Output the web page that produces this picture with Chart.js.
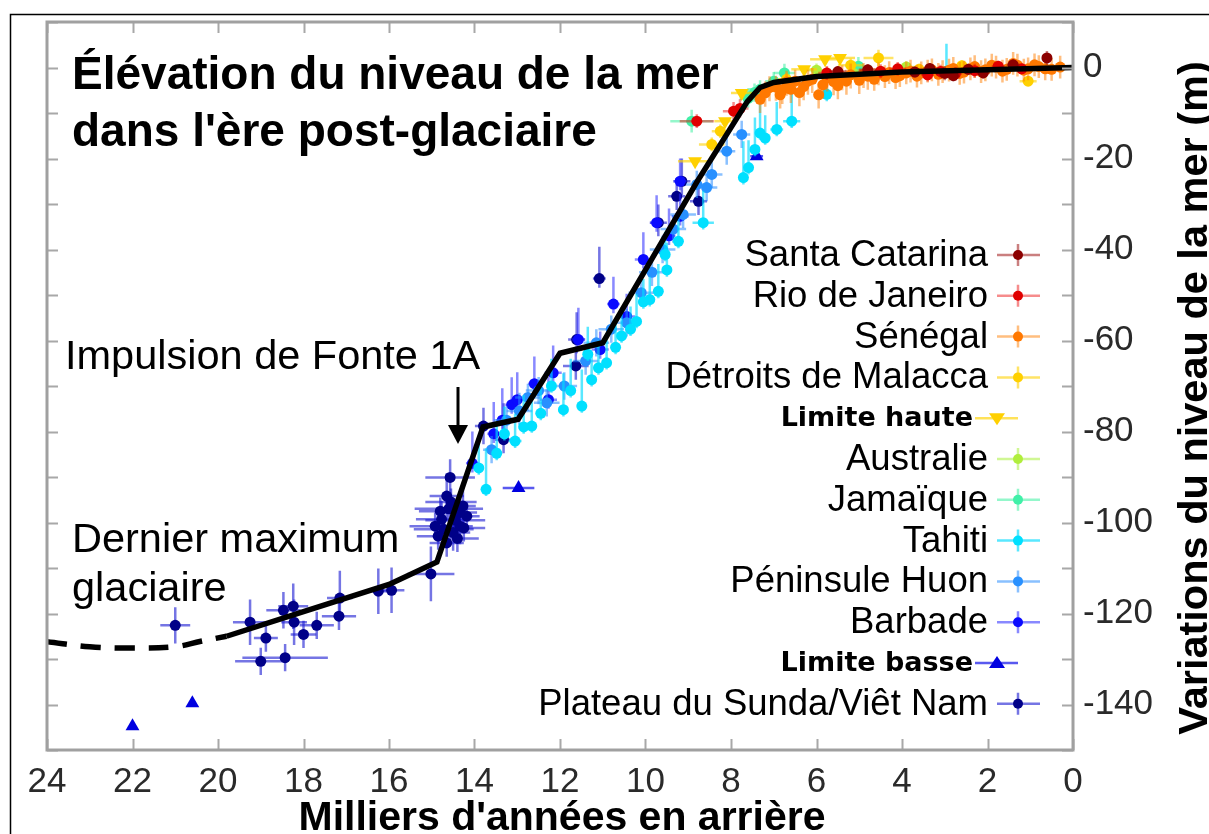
<!DOCTYPE html>
<html>
<head>
<meta charset="utf-8">
<script src="https://cdn.jsdelivr.net/npm/chart.js@4.4.1/dist/chart.umd.min.js"></script>
<style>
  html, body { margin: 0; padding: 0; background: #fff; }
  canvas { display: block; }
</style>
</head>
<body>
<canvas id="seaLevel" width="1209" height="834"></canvas>
<script>
// chaque point : [âge (ka), niveau (m), erreur âge, erreur vers le haut, erreur vers le bas]
const santaCatarina = [
    [0.61, 2.1, 0.1, 1.5, 1.5], [1.4, 0.6, 0.15, 1.2, 1.2], [2.1, -1.2, 0.15, 1.2, 1.2],
    [2.45, -0.4, 0.15, 1.2, 1.2], [3.0, -1.3, 0.2, 1.5, 1.5], [3.35, -0.2, 0.15, 1.2, 1.2],
    [4.8, -0.5, 0.2, 1.2, 1.2], [5.5, -0.9, 0.2, 1.2, 1.2], [2.8, -1.8, 0.15, 1.2, 1.2],
    [3.7, -1.0, 0.2, 1.2, 1.2]
];
const rioDeJaneiro = [
    [8.8, -11.8, 0.4, 1.5, 1.5], [7.94, -9.6, 0.25, 2, 2], [7.79, -9.0, 0.2, 2, 2],
    [5.76, -1.2, 0.2, 1.5, 1.5], [4.1, -0.3, 0.2, 1.5, 1.5], [3.1, -0.9, 0.2, 1.5, 1.5],
    [2.75, -1.4, 0.15, 1.5, 1.5], [2.3, -0.7, 0.15, 1.5, 1.5], [1.75, 0.3, 0.15, 1.2, 1.2],
    [1.2, -0.3, 0.15, 1.2, 1.2], [3.4, -1.6, 0.15, 1.5, 1.5], [4.5, -0.8, 0.15, 1.5, 1.5]
];
const senegal = [
    [7.32, -7.0, 0.1, 2.5, 3], [7.2, -5.6, 0.1, 2.5, 3], [7.1, -4.4, 0.1, 2.5, 3],
    [6.95, -4.3, 0.1, 2.5, 3], [6.85, -6.0, 0.1, 2.5, 3], [6.8, -5.0, 0.1, 2.5, 3],
    [6.7, -3.2, 0.1, 2.5, 3], [6.6, -4.8, 0.1, 2.5, 3], [6.5, -3.0, 0.1, 2.5, 3],
    [6.4, -5.5, 0.1, 2.5, 3], [6.3, -4.2, 0.1, 2.5, 3], [6.2, -3.0, 0.1, 2.5, 3],
    [6.1, -2.6, 0.1, 2.5, 3], [5.95, -6.0, 0.1, 2.5, 3], [5.85, -3.8, 0.1, 2.5, 3],
    [5.75, -2.3, 0.1, 2.5, 3], [5.6, -3.1, 0.1, 2.5, 3], [5.5, -4.0, 0.1, 2.5, 3],
    [5.4, -2.0, 0.1, 2.5, 3], [5.3, -3.0, 0.1, 2.5, 3], [5.2, -1.6, 0.1, 2.5, 3],
    [5.0, -2.8, 0.1, 2.5, 3], [4.9, -1.5, 0.1, 2.5, 3], [4.8, -1.9, 0.1, 2.5, 3],
    [4.65, -2.6, 0.1, 2.5, 2.5], [4.55, -1.4, 0.1, 2.5, 2.5], [4.4, -2.0, 0.1, 2.5, 2.5],
    [4.3, -1.1, 0.1, 2.5, 2.5], [4.15, -2.2, 0.1, 2.5, 2.5], [4.05, -1.8, 0.1, 2.5, 2.5],
    [3.9, -1.2, 0.1, 2.5, 2.5], [3.8, -0.8, 0.1, 2.5, 2.5], [3.65, -1.9, 0.1, 2.5, 2.5],
    [3.55, -1.2, 0.1, 2.5, 2.5], [3.4, -0.8, 0.1, 2.5, 2.5], [3.3, -0.5, 0.1, 2.5, 2.5],
    [3.15, -1.5, 0.1, 2.5, 2.5], [3.05, -0.9, 0.1, 2.5, 2.5], [2.9, -0.6, 0.1, 2.5, 2.5],
    [2.8, -0.2, 0.1, 2.5, 2.5], [2.65, -1.3, 0.1, 2.5, 2.5], [2.55, -1.0, 0.1, 2.5, 2.5],
    [2.4, -0.3, 0.1, 2.5, 2.5], [2.3, 0.2, 0.1, 2.5, 2.5], [2.15, -0.9, 0.1, 2.5, 2.5],
    [2.05, -0.5, 0.1, 2.5, 2.5], [1.9, 0.5, 0.1, 2.5, 2.5], [1.8, 0.1, 0.1, 2.5, 2.5],
    [1.65, -0.8, 0.1, 2.5, 2.5], [1.55, -0.4, 0.1, 2.5, 2.5], [1.4, 0.9, 0.1, 2.5, 2.5],
    [1.3, 0.5, 0.1, 2.5, 2.5], [1.15, -0.6, 0.1, 2.5, 2.5], [1.05, -0.3, 0.1, 2.5, 2.5],
    [0.9, 0.6, 0.1, 2.5, 2.5], [0.8, 0.2, 0.1, 2.5, 2.5], [0.65, -0.3, 0.1, 2.5, 2.5],
    [0.5, -0.4, 0.1, 2.5, 2.5], [0.3, 0.1, 0.1, 2.5, 2.5]
];
const malacca = [
    [8.45, -16.9, 0.3, 1.5, 1.5], [8.25, -14.0, 0.2, 1.5, 1.5], [6.7, -2.6, 0.2, 1.5, 1.5],
    [4.55, 2.1, 0.35, 1.8, 1.8], [3.6, -0.4, 0.2, 1.2, 1.2], [2.6, 0.4, 0.2, 1.2, 1.2],
    [1.05, -3.0, 0.2, 1, 1], [5.2, 0.5, 0.3, 1.5, 1.5]
];
const limiteHaute = [
    [8.84, -20.6, 0.4, 0, 0], [8.14, -11.8, 0.25, 0, 0], [7.75, -5.6, 0.25, 0, 0],
    [6.29, -0.4, 0.3, 0, 0], [5.8, 1.8, 0.35, 0, 0], [5.45, 2.1, 0.35, 0, 0]
];
const australie = [
    [6.0, -0.6, 0.2, 1.5, 1.5], [5.15, -1.2, 0.2, 1.5, 1.5], [3.9, 0.1, 0.2, 1.2, 1.2]
];
const jamaique = [
    [8.92, -11.8, 0.5, 2.5, 2.5], [7.6, -6.8, 0.2, 2, 2], [7.32, -4.8, 0.3, 2, 2],
    [7.0, -3.0, 0.2, 2, 2], [6.75, -1.2, 0.25, 2, 2], [5.02, 0.3, 0.3, 2, 2],
    [7.45, -5.5, 0.2, 2, 2]
];
const tahiti = [
    [13.73, -92.7, 0.1, 9, 1.5], [13.48, -84.8, 0.1, 7, 1.5], [13.3, -80.5, 0.1, 6, 1.5],
    [13.05, -82.1, 0.15, 6, 1.5], [12.85, -79.0, 0.1, 7, 1.5], [12.66, -78.8, 0.1, 6, 1.5],
    [12.45, -76.0, 0.1, 7, 1.5], [11.92, -75.2, 0.1, 8, 1.5], [11.75, -71.0, 0.1, 7, 1.5],
    [11.49, -74.4, 0.1, 8, 1.5], [11.26, -68.6, 0.1, 6, 1.5], [11.1, -66.0, 0.1, 6, 1.5],
    [10.91, -64.9, 0.1, 5, 1.5], [10.7, -61.5, 0.1, 6, 1.5], [10.56, -59.0, 0.1, 6, 1.5],
    [10.35, -57.5, 0.1, 5, 1.5], [10.21, -55.8, 0.1, 6, 1.5], [10.05, -51.5, 0.1, 5, 1.5],
    [9.9, -51.0, 0.1, 5, 1.5], [9.7, -49.2, 0.1, 6, 1.5], [9.5, -44.5, 0.1, 6, 1.5],
    [9.54, -41.1, 0.1, 5, 1.5], [9.23, -38.2, 0.1, 5, 1.5], [8.65, -34.1, 0.25, 7, 1.5],
    [7.71, -24.2, 0.1, 8, 1.5], [7.59, -22.0, 0.1, 6, 1.5], [7.44, -18.0, 0.1, 7, 1.5],
    [7.32, -14.4, 0.1, 7, 1.5], [7.2, -15.5, 0.1, 5, 1.5], [6.93, -13.6, 0.15, 6, 1.5],
    [6.58, -11.8, 0.2, 6, 1.5], [5.76, -5.9, 0.1, 3, 1.5], [2.96, -0.8, 0.1, 6, 1],
    [13.9, -88.0, 0.1, 7, 1.5], [12.2, -70.0, 0.1, 6, 1.5], [11.35, -63.0, 0.1, 6, 1.5]
];
const huon = [
    [13.6, -84.0, 0.2, 3, 3], [13.25, -77.5, 0.3, 3, 3], [12.95, -75.5, 0.3, 4, 3],
    [12.5, -71.0, 0.3, 3, 3], [12.31, -73.7, 0.3, 3, 3], [11.9, -70.0, 0.3, 3, 3],
    [11.4, -64.5, 0.3, 3, 3], [10.8, -57.5, 0.3, 3, 3], [10.44, -56.1, 0.3, 3, 3],
    [10.1, -49.5, 0.3, 3, 3], [9.85, -45.0, 0.3, 3, 3], [9.6, -40.0, 0.3, 3, 3],
    [9.12, -32.3, 0.3, 3, 3], [8.8, -25.7, 0.25, 3, 3], [8.57, -26.4, 0.25, 3, 3],
    [8.45, -23.5, 0.25, 3, 3], [8.1, -18.4, 0.2, 3, 3], [7.75, -14.7, 0.2, 3, 3],
    [12.75, -72.5, 0.3, 3, 3], [11.15, -60.5, 0.3, 3, 3], [9.35, -35.5, 0.3, 3, 3]
];
const barbade = [
    [14.05, -87.0, 0.15, 7, 2], [13.55, -80.5, 0.15, 7, 2], [13.13, -74.1, 0.15, 6, 2],
    [13.0, -73.0, 0.15, 6, 2], [12.27, -73.0, 0.2, 5, 2], [12.16, -67.1, 0.2, 6, 2],
    [11.57, -59.8, 0.15, 7, 2], [11.06, -62.0, 0.2, 4, 2], [10.44, -54.7, 0.2, 5, 2],
    [10.05, -42.2, 0.2, 6, 2], [9.74, -34.1, 0.15, 6, 2], [9.19, -32.7, 0.2, 5, 2],
    [9.19, -25.0, 0.15, 5, 2], [12.6, -69.5, 0.15, 6, 2], [13.35, -77.5, 0.15, 7, 2],
    [10.75, -52.0, 0.15, 6, 2], [9.45, -37.0, 0.15, 6, 2]
];
const limiteBasse = [
    [22.0, -144.8, 0, 0, 0], [20.6, -139.7, 0, 0, 0], [12.97, -92.4, 0.37, 0, 0],
    [7.4, -19.5, 0.15, 0, 0]
];
const sunda = [
    [21.0, -122.6, 0.35, 4, 4], [19.25, -121.9, 0.4, 5, 5], [18.88, -125.4, 0.28, 3, 3],
    [19.0, -130.5, 0.6, 3, 3], [18.43, -129.7, 1.0, 3, 3], [18.47, -119.3, 0.4, 4, 4],
    [18.24, -118.4, 0.35, 5, 5], [18.22, -121.9, 0.3, 5, 5], [18.0, -124.6, 0.3, 3, 3],
    [17.69, -122.6, 0.4, 3, 3], [17.17, -120.6, 0.4, 5, 3], [17.15, -116.6, 0.3, 6, 3],
    [16.25, -115.1, 0.2, 5, 5], [15.94, -114.9, 0.3, 5, 5], [15.02, -111.3, 0.55, 6, 6],
    [14.57, -90.1, 0.58, 4, 4], [14.65, -94.2, 0.4, 5, 5], [14.77, -99.3, 0.6, 4, 4],
    [14.34, -97.8, 0.4, 3, 3], [14.34, -100.8, 0.3, 4, 4], [14.18, -98.6, 0.3, 3, 3],
    [14.85, -103.0, 0.5, 3, 3], [14.5, -102.2, 0.4, 4, 4], [14.27, -96.4, 0.3, 4, 4],
    [14.92, -100.8, 0.6, 3, 3], [14.65, -104.5, 0.4, 3, 3], [14.45, -99.5, 0.7, 2, 2],
    [14.6, -97.0, 0.8, 3, 3], [14.72, -101.5, 0.7, 2, 2], [14.4, -103.5, 0.5, 3, 3],
    [14.25, -101.2, 0.5, 3, 3], [14.55, -95.5, 0.6, 3, 3], [14.8, -97.5, 0.5, 3, 3],
    [13.79, -78.8, 0.2, 4, 4], [13.32, -81.8, 0.2, 8, 3],
    [11.63, -65.6, 0.3, 3, 3], [11.61, -59.8, 0.2, 6, 3], [11.08, -46.4, 0.15, 7, 2],
    [9.7, -34.1, 0.2, 4, 3], [9.27, -28.3, 0.2, 4, 3], [9.15, -25.0, 0.2, 5, 3],
    [8.76, -29.4, 0.2, 3, 3]
];

// courbe moyenne
const curveAge = [19.8, 18, 16, 14.88, 13.8, 12.98, 12.0, 11.0, 8.8, 7.62, 7.32, 7.0, 6.0, 4.0, 2.0, 0];
const curveLevel = [-125, -119.6, -113.6, -108.7, -79, -77.3, -62.8, -60.5, -25.2, -7.5, -4.4, -3.3, -2.0, -1.0, -0.5, 0];
const dashAge = [24, 23, 22, 21, 20.4, 19.8];
const dashLevel = [-126.2, -127.3, -127.6, -127.3, -126.1, -125];

const seriesNames = ['Santa Catarina', 'Rio de Janeiro', 'Sénégal', 'Détroits de Malacca', 'Limite haute',
    'Australie', 'Jamaïque', 'Tahiti', 'Péninsule Huon', 'Barbade', 'Limite basse', 'Plateau du Sunda/Viêt Nam'];
const seriesData = [santaCatarina, rioDeJaneiro, senegal, malacca, limiteHaute,
    australie, jamaique, tahiti, huon, barbade, limiteBasse, sunda];
const pointColors = ['#8c0000', '#e00000', '#ff7800', '#ffd000', '#ffd000',
    '#b0ee3c', '#40f0a8', '#00e0ff', '#2890ff', '#0a0aff', '#0000e0', '#000088'];
const barColors = ['rgba(150,0,0,0.5)', 'rgba(235,0,0,0.45)', 'rgba(255,125,0,0.5)', 'rgba(255,210,0,0.6)', 'rgba(255,210,0,0.65)',
    'rgba(170,240,60,0.55)', 'rgba(60,240,160,0.55)', 'rgba(0,220,255,0.65)', 'rgba(40,140,255,0.55)', 'rgba(40,40,255,0.55)',
    'rgba(0,0,230,0.65)', 'rgba(25,25,210,0.6)'];

const FONT = "'Liberation Sans', Arial, sans-serif";

function isLimit(name) {
    return name.indexOf('Limite') === 0;
}

const datasets = seriesData.map((arr, i) => {
    const lim = isLimit(seriesNames[i]);
    return {
        label: seriesNames[i],
        data: arr.map(p => ({ x: p[0], y: p[1], xe: p[2], up: p[3], dn: p[4] })),
        backgroundColor: pointColors[i],
        borderColor: pointColors[i],
        pointStyle: lim ? 'triangle' : 'circle',
        pointRotation: seriesNames[i] === 'Limite haute' ? 180 : 0,
        pointRadius: lim ? 8 : 5.5,
        borderWidth: 0,
        errColor: barColors[i],
        order: 1
    };
});

datasets.push({
    type: 'line',
    label: 'courbe',
    data: curveAge.map((a, i) => ({ x: a, y: curveLevel[i] })),
    borderColor: '#000',
    borderWidth: 5.5,
    pointRadius: 0,
    tension: 0,
    order: 0
});
datasets.push({
    type: 'line',
    label: 'extrapolation',
    data: dashAge.map((a, i) => ({ x: a, y: dashLevel[i] })),
    borderColor: '#000',
    borderWidth: 5.5,
    borderDash: [20, 14],
    pointRadius: 0,
    tension: 0.4,
    order: 0
});

const decor = {
    id: 'decor',
    beforeDraw(chart) {
        const ctx = chart.ctx;
        ctx.save();
        ctx.fillStyle = '#fff';
        ctx.fillRect(0, 0, chart.width, chart.height);
        ctx.strokeStyle = '#000';
        ctx.lineWidth = 1.5;
        ctx.beginPath();
        ctx.moveTo(10.5, chart.height);
        ctx.lineTo(10.5, 14.5);
        ctx.lineTo(chart.width, 14.5);
        ctx.stroke();
        ctx.restore();
    },
    beforeDatasetDraw(chart, args) {
        const ds = chart.data.datasets[args.index];
        if (!ds.errColor) return;
        const ctx = chart.ctx;
        const xs = chart.scales.x, ys = chart.scales.y;
        ctx.save();
        ctx.strokeStyle = ds.errColor;
        ctx.lineWidth = 2.5;
        ds.data.forEach(p => {
            const px = xs.getPixelForValue(p.x), py = ys.getPixelForValue(p.y);
            ctx.beginPath();
            if (p.xe) {
                ctx.moveTo(xs.getPixelForValue(p.x + p.xe), py);
                ctx.lineTo(xs.getPixelForValue(p.x - p.xe), py);
            }
            if (p.up || p.dn) {
                ctx.moveTo(px, ys.getPixelForValue(p.y + p.up));
                ctx.lineTo(px, ys.getPixelForValue(p.y - p.dn));
            }
            ctx.stroke();
        });
        ctx.restore();
    },
    afterDatasetsDraw(chart) {
        const ctx = chart.ctx;
        const a = chart.chartArea;
        const xs = chart.scales.x, ys = chart.scales.y;
        ctx.save();
        ctx.strokeStyle = '#a8a8a8';
        ctx.lineWidth = 2;
        xs.ticks.forEach(t => {
            const px = Math.round(xs.getPixelForValue(t.value)) + 0.5;
            ctx.beginPath();
            ctx.moveTo(px, a.bottom); ctx.lineTo(px, a.bottom - 11);
            ctx.moveTo(px, a.top); ctx.lineTo(px, a.top + 11);
            ctx.stroke();
        });
        ys.ticks.forEach(t => {
            const py = Math.round(ys.getPixelForValue(t.value)) + 0.5;
            ctx.beginPath();
            ctx.moveTo(a.left, py); ctx.lineTo(a.left + 11, py);
            ctx.moveTo(a.right, py); ctx.lineTo(a.right - 11, py);
            ctx.stroke();
        });
        ctx.lineWidth = 3;
        ctx.strokeStyle = '#a0a0a0';
        ctx.strokeRect(a.left, a.top, a.right - a.left, a.bottom - a.top);
        ctx.restore();
    },
    afterDraw(chart) {
        const ctx = chart.ctx;
        ctx.save();
        ctx.fillStyle = '#000';
        ctx.textBaseline = 'alphabetic';

        // titre
        ctx.textAlign = 'left';
        ctx.font = 'bold 46px ' + FONT;
        ctx.fillText('Élévation du niveau de la mer', 72, 89);
        ctx.fillText("dans l'ère post-glaciaire", 72, 146);

        // annotations
        ctx.font = '41.5px ' + FONT;
        ctx.fillText('Impulsion de Fonte 1A', 65, 369);
        ctx.fillText('Dernier maximum', 72, 552);
        ctx.fillText('glaciaire', 72, 601);

        // flèche
        ctx.strokeStyle = '#000';
        ctx.lineWidth = 3;
        ctx.beginPath();
        ctx.moveTo(458, 387); ctx.lineTo(458, 428);
        ctx.stroke();
        ctx.beginPath();
        ctx.moveTo(448, 425); ctx.lineTo(468, 425); ctx.lineTo(458, 444);
        ctx.closePath();
        ctx.fill();

        // titres des axes
        const a = chart.chartArea;
        ctx.textAlign = 'center';
        ctx.font = 'bold 41px ' + FONT;
        ctx.fillText("Milliers d'années en arrière", (a.left + a.right) / 2 + 2, 830);
        ctx.save();
        ctx.translate(1207, 398);
        ctx.rotate(-Math.PI / 2);
        ctx.font = 'bold 41.5px ' + FONT;
        ctx.fillText('Variations du niveau de la mer (m)', 0, 0);
        ctx.restore();

        // légende
        seriesNames.forEach((name, i) => {
            const y = 255 + i * 40.8;
            const lim = isLimit(name);
            const right = lim ? 973 : 988;
            ctx.textAlign = 'right';
            ctx.textBaseline = 'middle';
            ctx.fillStyle = '#000';
            ctx.font = lim ? 'bold 27px \'DejaVu Sans\', sans-serif' : '36.5px ' + FONT;
            ctx.fillText(name, right, y + 1);
            ctx.strokeStyle = barColors[i];
            ctx.lineWidth = 2.5;
            ctx.fillStyle = pointColors[i];
            if (lim) {
                ctx.beginPath();
                ctx.moveTo(975, y); ctx.lineTo(1018, y);
                ctx.stroke();
                const d = name === 'Limite haute' ? 1 : -1;
                ctx.beginPath();
                ctx.moveTo(989, y - 5 * d); ctx.lineTo(1005, y - 5 * d); ctx.lineTo(997, y + 7 * d);
                ctx.closePath();
                ctx.fill();
            } else {
                ctx.beginPath();
                ctx.moveTo(997, y); ctx.lineTo(1040, y);
                ctx.moveTo(1018, y - 11); ctx.lineTo(1018, y + 11);
                ctx.stroke();
                ctx.beginPath();
                ctx.arc(1018, y, 5, 0, Math.PI * 2);
                ctx.fill();
            }
        });
        ctx.restore();
    }
};

new Chart(document.getElementById('seaLevel'), {
    type: 'scatter',
    data: { datasets: datasets },
    options: {
        responsive: false,
        animation: false,
        events: [],
        layout: { padding: { left: 47, top: 22, right: 0, bottom: 0 } },
        plugins: {
            legend: { display: false },
            tooltip: { enabled: false }
        },
        scales: {
            x: {
                type: 'linear',
                position: 'bottom',
                reverse: true,
                min: 0,
                max: 24,
                border: { display: false },
                grid: { display: false, drawTicks: false },
                ticks: {
                    stepSize: 2,
                    autoSkip: false,
                    maxRotation: 0,
                    padding: 11,
                    color: '#2a2a2a',
                    font: { family: FONT, size: 35 }
                },
                afterFit: s => { s.height = 84; }
            },
            y: {
                type: 'linear',
                position: 'right',
                min: -150,
                max: 10,
                border: { display: false },
                grid: { display: false, drawTicks: false },
                ticks: {
                    stepSize: 10,
                    autoSkip: false,
                    padding: 10,
                    color: '#2a2a2a',
                    font: { family: FONT, size: 35, lineHeight: 0.5 },
                    callback: v => (v % 20 === 0 ? String(v) : '')
                },
                afterFit: s => { s.width = 136; }
            }
        }
    },
    plugins: [decor]
});
</script>
</body>
</html>
